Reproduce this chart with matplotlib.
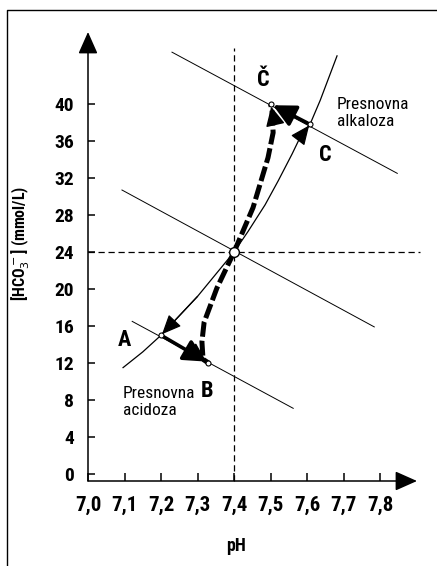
import matplotlib
matplotlib.use('Agg')
import matplotlib.pyplot as plt
from matplotlib.lines import Line2D
from matplotlib import font_manager

# ozka pisava, če je na voljo
imena = set(f.name for f in font_manager.fontManager.ttflist)
ozke = [f.name for f in font_manager.fontManager.ttflist if f.stretch in ('condensed', 'semi-condensed', 'extra-condensed')]
kandidati = ['Liberation Sans Narrow', 'Roboto Condensed', 'Noto Sans Condensed', 'Open Sans Condensed', 'DejaVu Sans Condensed']
pisava = next((k for k in kandidati if k in imena), None)
if pisava is None and ozke:
    pisava = ozke[0]
if pisava is None:
    pisava = 'DejaVu Sans'
plt.rcParams['font.family'] = [pisava, 'DejaVu Sans']

# os x: pH, os y: [HCO3-] (mmol/L)
xticks = [7.0, 7.1, 7.2, 7.3, 7.4, 7.5, 7.6, 7.7, 7.8]
xtick_labels = ['7,0', '7,1', '7,2', '7,3', '7,4', '7,5', '7,6', '7,7', '7,8']
yticks = [0, 4, 8, 12, 16, 20, 24, 28, 32, 36, 40]

# izobara pCO2 (odčitano s slike)
izobara_ph = [7.096, 7.15, 7.2, 7.3, 7.4, 7.438, 7.485, 7.521, 7.559, 7.581, 7.608, 7.636, 7.682]
izobara_hco3 = [11.5, 13.2, 15.0, 19.2, 24.0, 26.2, 29.1, 31.7, 34.6, 36.4, 37.8, 40.4, 45.2]

# puferske črte (začetek, konec)
pufer_zgoraj_ph = [7.23, 7.847]
pufer_zgoraj_hco3 = [45.6, 32.5]
pufer_sredina_ph = [7.093, 7.784]
pufer_sredina_hco3 = [30.7, 15.9]
pufer_spodaj_ph = [7.121, 7.562]
pufer_spodaj_hco3 = [16.5, 7.1]

# točke
tocke = {'A': (7.2, 15.0), 'B': (7.33, 12.0), 'C': (7.608, 37.8), 'Č': (7.5, 40.0)}
center = (7.4, 24.0)

# krivulji kompenzacije (debela črtkana)
komp_gor_ph = [7.4, 7.452, 7.493, 7.507, 7.504, 7.5]
komp_gor_hco3 = [24.0, 28.8, 34.2, 36.9, 39.3, 40.0]
komp_dol_ph = [7.4, 7.353, 7.318, 7.312, 7.315, 7.33]
komp_dol_hco3 = [24.0, 20.1, 16.4, 14.3, 12.4, 12.0]

fig = plt.figure(figsize=(4.37, 5.66), dpi=100)
ax = fig.add_axes([88/437, 85/566, 329/437, 449/566])
ax.set_xlim(7.0, 7.901)
ax.set_ylim(-0.757, 47.78)

for s in ax.spines.values():
    s.set_visible(False)

# osi s puščicami
ax.annotate('', xy=(0, 1), xytext=(0, 0), xycoords='axes fraction',
            arrowprops=dict(arrowstyle='-|>,head_length=0.9,head_width=0.4', mutation_scale=15,
                            lw=1.1, color='black', shrinkA=0, shrinkB=0))
ax.annotate('', xy=(1, 0), xytext=(0, 0), xycoords='axes fraction',
            arrowprops=dict(arrowstyle='-|>,head_length=0.9,head_width=0.4', mutation_scale=15,
                            lw=1.1, color='black', shrinkA=0, shrinkB=0))

ax.set_xticks(xticks)
ax.set_xticklabels(xtick_labels)
ax.set_yticks(yticks)
ax.tick_params(axis='x', direction='in', length=6, width=1.1, pad=11, labelsize=15)
ax.tick_params(axis='y', direction='in', length=5, width=1.1, pad=10, labelsize=14)
for lab in ax.get_xticklabels() + ax.get_yticklabels():
    lab.set_fontweight('bold')

ax.set_xlabel('pH', fontsize=13, fontweight='bold')
ax.xaxis.set_label_coords(0.45, -0.125)
ax.set_ylabel(r'[HCO$_3^-$] (mmol/L)', fontsize=11.5, fontweight='bold')
ax.yaxis.set_label_coords(-0.17, 0.53)

# referenčni črtkani črti
ax.plot([7.4, 7.4], [-0.757, 46.05], color='black', lw=0.9, ls=(0, (5, 3)), clip_on=False)
ax.plot([7.0, 7.91], [24, 24], color='black', lw=0.9, ls=(0, (5, 3)), clip_on=False)

# puferske črte in izobara
ax.plot(pufer_zgoraj_ph, pufer_zgoraj_hco3, color='black', lw=0.7)
ax.plot(pufer_sredina_ph, pufer_sredina_hco3, color='black', lw=0.7)
ax.plot(pufer_spodaj_ph, pufer_spodaj_hco3, color='black', lw=0.7)
ax.plot(izobara_ph, izobara_hco3, color='black', lw=0.9)

# tanke puščice ob izobari
thin = dict(arrowstyle='-|>,head_length=0.8,head_width=0.35', mutation_scale=15,
            lw=0.9, color='black', shrinkA=0, shrinkB=1)
ax.annotate('', xy=tocke['A'], xytext=(izobara_ph[3], izobara_hco3[3]), arrowprops=thin)
ax.annotate('', xy=tocke['C'], xytext=(izobara_ph[9], izobara_hco3[9]), arrowprops=thin)

# debeli puščici ob puferskih črtah
thick = dict(arrowstyle='-|>,head_length=0.9,head_width=0.45', mutation_scale=15,
             lw=2.6, color='black', shrinkA=2, shrinkB=2)
ax.annotate('', xy=tocke['B'], xytext=tocke['A'], arrowprops=thick)
ax.annotate('', xy=tocke['Č'], xytext=tocke['C'], arrowprops=thick)

# debeli črtkani krivulji
ax.plot(komp_gor_ph, komp_gor_hco3, color='black', lw=3.6, dashes=(3, 0.8), solid_capstyle='butt')
ax.plot(komp_dol_ph, komp_dol_hco3, color='black', lw=3.6, dashes=(3, 0.8), solid_capstyle='butt')
head = dict(arrowstyle='-|>,head_length=0.8,head_width=0.4', mutation_scale=15,
            lw=1, color='black', shrinkA=0, shrinkB=2)
ax.annotate('', xy=tocke['Č'], xytext=(komp_gor_ph[-2], komp_gor_hco3[-2]), arrowprops=head)
ax.annotate('', xy=tocke['B'], xytext=(komp_dol_ph[-2], komp_dol_hco3[-2]), arrowprops=head)

# točke
for k, (px, py) in tocke.items():
    ax.plot(px, py, 'o', ms=3.6, mfc='white', mec='black', mew=0.8, zorder=5)
ax.plot(*center, 'o', ms=7, mfc='white', mec='black', mew=1.0, zorder=5)

# oznake
ax.text(7.479, 42.6, 'Č', fontsize=16, fontweight='bold', ha='center', va='center')
ax.text(7.649, 34.5, 'C', fontsize=16, fontweight='bold', ha='center', va='center')
ax.text(7.101, 14.5, 'A', fontsize=16, fontweight='bold', ha='center', va='center')
ax.text(7.326, 9.0, 'B', fontsize=16, fontweight='bold', ha='center', va='center')
ax.text(7.682, 39.0, 'Presnovna\nalkaloza', fontsize=12.5, ha='left', va='center')
ax.text(7.096, 7.8, 'Presnovna\nacidoza', fontsize=12.5, ha='left', va='center')

# okvir
fig.add_artist(Line2D([7/437, 7/437, 1.0], [0.0, 1 - 10/566, 1 - 10/566],
                      transform=fig.transFigure, color='black', lw=1.0))

fig.savefig('out.png', dpi=100)
